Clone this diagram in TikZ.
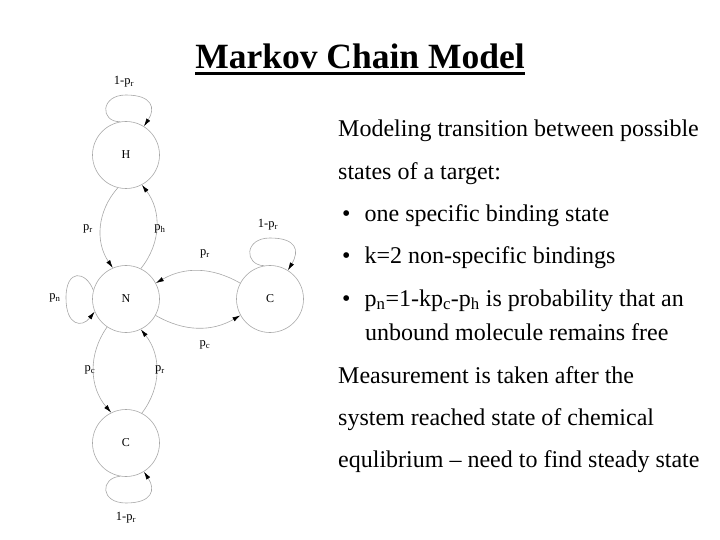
\documentclass[tikz,border=0pt]{standalone}
\usepackage{fontspec}
\setmainfont{Liberation Serif}
\usetikzlibrary{arrows.meta,positioning,calc}
\definecolor{linea}{HTML}{A8A8A8}
\newcommand{\pp}[1]{p\textsubscript{#1}}

\begin{document}
\begin{tikzpicture}[x=1bp,y=-1bp,
  estado/.style={circle,draw=linea,line width=0.6bp,minimum size=67bp,inner sep=0pt,font=\fontsize{12bp}{14bp}\selectfont},
  trans/.style={draw=linea,line width=0.6bp,-{Latex[length=8bp,width=4.5bp,color=black]}},
  etiq/.style={inner sep=0pt,font=\fontsize{12.5bp}{14bp}\selectfont},
  linea texto/.style={anchor=base west,inner sep=0pt,font=\fontsize{24bp}{28bp}\selectfont}]
\useasboundingbox (0,0) rectangle (720,540);
% estados
\node[estado] (H) at (126,155) {H};
\node[estado] (N) at (126,299) {N};
\node[estado] (Cd) at (270,299) {C};
\node[estado] (Cb) at (126,443) {C};
% transiciones
\draw[trans] (H.256) to[bend right=38] (N.113);
\draw[trans] (N.64) to[bend right=38] (H.298);
\draw[trans] (Cd.152) to[bend right=30] (N.28);
\draw[trans] (N.331) to[bend right=30] (Cd.209);
\draw[trans] (N.236) to[bend right=38] (Cb.116);
\draw[trans] (Cb.62) to[bend right=38] (N.296);
% lazos
\draw[trans] (H.100) .. controls (100,122) and (100,95) .. (126,95) .. controls (152,95) and (156,108) .. (H.58);
\draw[trans] (N.165) .. controls (86,271) and (66,268) .. (66,298) .. controls (66,326) and (82,328) .. (N.202);
\draw[trans] (Cd.100) .. controls (244,265) and (244,238) .. (270,238) .. controls (296,238) and (300,250) .. (Cd.58);
\draw[trans] (Cb.260) .. controls (100,478) and (100,503) .. (126,503) .. controls (152,503) and (156,490) .. (Cb.302);
% etiquetas
\node[etiq] (eH) at (124,82) {1-\pp{r}};
\node[etiq] (eHN) at (88,229) {\pp{r}};
\node[etiq] (eNH) at (160,229) {\pp{h}};
\node[etiq] (eCd) at (268,225) {1-\pp{r}};
\node[etiq] (eCN) at (205,254) {\pp{r}};
\node[etiq] (eN) at (55,298) {\pp{n}};
\node[etiq] (eNC) at (205,345) {\pp{c}};
\node[etiq] (eNCb) at (90,370) {\pp{c}};
\node[etiq] (eCbN) at (160,370) {\pp{r}};
\node[etiq] (eCb) at (126,518) {1-\pp{r}};
% titulo
\node[anchor=base,inner sep=0pt,font=\fontsize{35.5bp}{40bp}\selectfont\bfseries] (titulo) at (360,69) {Markov Chain Model};
\draw[line width=2.8bp] ($(titulo.base west)+(0,4.5)$) -- ($(titulo.base east)+(0,4.5)$);
% texto
\node[linea texto] (t1) at (338,137) {Modeling transition between possible};
\node[linea texto] (t2) at (338,180) {states of a target:};
\node[linea texto] (b1) at (338,222) {\hspace{4bp}•\hspace{14bp}one specific binding state};
\node[linea texto] (b2) at (338,264) {\hspace{4bp}•\hspace{14bp}k=2 non-specific bindings};
\node[linea texto] (b3) at (338,306) {\hspace{4bp}•\hspace{14bp}\pp{n}=1-k\pp{c}-\pp{h} is probability that an};
\node[linea texto] (b3b) at (365,340) {unbound molecule remains free};
\node[linea texto] (t3) at (338,383) {Measurement is taken after the};
\node[linea texto] (t4) at (338,425) {system reached state of chemical};
\node[linea texto] (t5) at (338,467) {equlibrium – need to find steady state};
\end{tikzpicture}
\end{document}
